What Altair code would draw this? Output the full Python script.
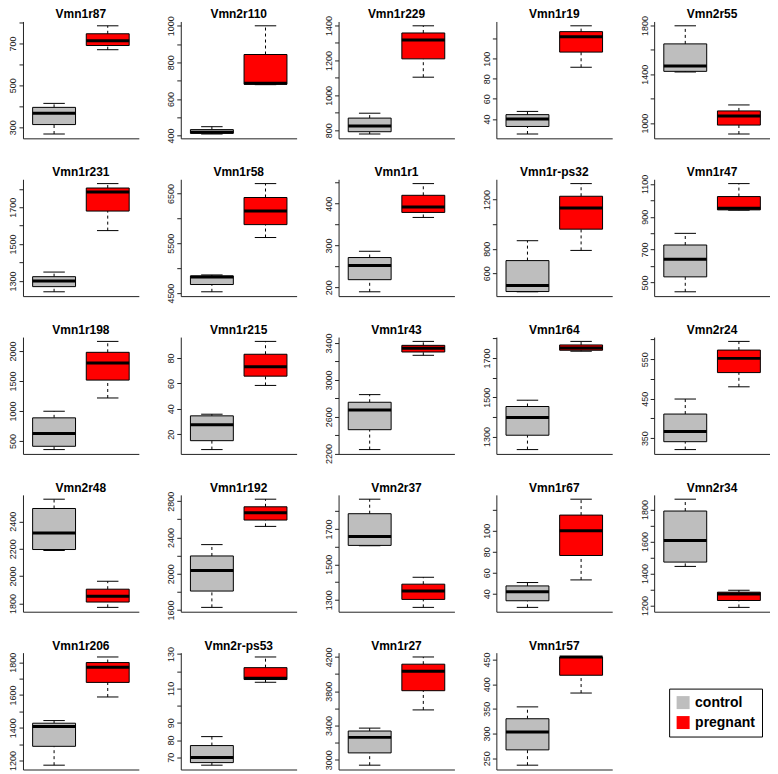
import altair as alt
import pandas as pd

genes = ["Vmn1r87", "Vmn2r110", "Vmn1r229", "Vmn1r19", "Vmn2r55",
         "Vmn1r231", "Vmn1r58", "Vmn1r1", "Vmn1r-ps32", "Vmn1r47",
         "Vmn1r198", "Vmn1r215", "Vmn1r43", "Vmn1r64", "Vmn2r24",
         "Vmn2r48", "Vmn1r192", "Vmn2r37", "Vmn1r67", "Vmn2r34",
         "Vmn1r206", "Vmn2r-ps53", "Vmn1r27", "Vmn1r57"]

# control group: whisker low, Q1, median, Q3, whisker high
ctrl_min = [268, 408, 779, 25, 1419, 1241, 4527, 189, 449, 443, 357, 8, 2243, 1234, 321,
            2187, 1629, 1605, 27.1, 1444, 1172, 65.4, 2938, 236]
ctrl_q1 = [313, 412, 792, 32.5, 1424, 1269, 4673, 218, 451, 534, 412, 15, 2459, 1307, 341,
           2194, 1809, 1607, 33.4, 1471, 1287, 66.9, 3081, 267]
ctrl_med = [367, 417, 825, 40, 1468, 1300, 4825, 252, 500, 641, 627, 27.5, 2674, 1397, 367,
            2315, 2035, 1657, 41.9, 1606, 1408, 69.8, 3262, 303]
ctrl_q3 = [395, 432, 870, 44.3, 1649, 1323, 4845, 271, 703, 728, 886, 34.5, 2757, 1453, 411,
           2494, 2196, 1786, 47.5, 1790, 1428, 76.8, 3336, 330]
ctrl_max = [414, 448, 898, 47.5, 1797, 1348, 4865, 286, 865, 799, 996, 35.8, 2840, 1485, 449,
            2562, 2321, 1868, 50.7, 1864, 1444, 82, 3370, 354]

# pregnant group
preg_min = [670, 678, 1104, 91.5, 911, 1573, 5616, 367, 786, 940, 1217, 58.4, 3267, 1734, 480,
            1771, 2522, 1257, 53.2, 1188, 1588, 113.6, 3582, 382]
preg_q1 = [690, 680, 1209, 106.6, 984, 1679, 5875, 379, 959, 942, 1515, 65.7, 3303, 1739, 516,
           1810, 2592, 1302, 76.4, 1231, 1677, 115.2, 3806, 418]
preg_med = [713, 686, 1317, 122, 1059, 1783, 6147, 392, 1132, 952, 1802, 73, 3343, 1750, 552,
            1853, 2672, 1350, 100, 1272, 1770, 115.9, 4034, 455]
preg_q3 = [746, 843, 1357, 127, 1100, 1804, 6419, 420, 1227, 1023, 1978, 82.9, 3375, 1766, 573,
           1904, 2738, 1388, 114.8, 1283, 1798, 122.1, 4115, 455]
preg_max = [784, 1000, 1398, 132.8, 1149, 1828, 6698, 448, 1330, 1102, 2160, 93, 3418, 1784, 595,
            1962, 2822, 1427, 129.9, 1295, 1832, 128.3, 4199, 455]

tick_values = [
    [300, 400, 500, 600, 700, 800],
    [400, 500, 600, 700, 800, 900, 1000],
    [800, 900, 1000, 1100, 1200, 1300, 1400],
    [40, 60, 80, 100, 120],
    [1000, 1200, 1400, 1600, 1800],
    [1300, 1400, 1500, 1600, 1700, 1800],
    [4500, 5000, 5500, 6000, 6500],
    [200, 250, 300, 350, 400, 450],
    [600, 800, 1000, 1200],
    [500, 600, 700, 800, 900, 1000, 1100],
    [500, 1000, 1500, 2000],
    [20, 40, 60, 80],
    [2200, 2400, 2600, 2800, 3000, 3200, 3400],
    [1300, 1400, 1500, 1600, 1700, 1800],
    [350, 400, 450, 500, 550, 600],
    [1800, 2000, 2200, 2400],
    [1600, 1800, 2000, 2200, 2400, 2600, 2800],
    [1300, 1400, 1500, 1600, 1700, 1800],
    [40, 60, 80, 100, 120],
    [1200, 1300, 1400, 1500, 1600, 1700, 1800],
    [1200, 1300, 1400, 1500, 1600, 1700, 1800],
    [70, 80, 90, 100, 110, 120, 130],
    [3000, 3200, 3400, 3600, 3800, 4000, 4200],
    [250, 300, 350, 400, 450],
]
label_values = [
    [300, 500, 700],
    [400, 600, 800, 1000],
    [800, 1000, 1200, 1400],
    [40, 60, 80, 100],
    [1000, 1400, 1800],
    [1300, 1500, 1700],
    [4500, 5500, 6500],
    [200, 300, 400],
    [600, 800, 1200],
    [500, 700, 900, 1100],
    [500, 1000, 1500, 2000],
    [20, 40, 60, 80],
    [2200, 2600, 3000, 3400],
    [1300, 1500, 1700],
    [350, 450, 550],
    [1800, 2000, 2200, 2400],
    [1600, 2000, 2400, 2800],
    [1300, 1500, 1700],
    [40, 60, 80, 100],
    [1200, 1400, 1600, 1800],
    [1200, 1400, 1600, 1800],
    [70, 80, 90, 110, 130],
    [3000, 3400, 3800, 4200],
    [250, 300, 350, 400, 450],
]

groups = ["control", "pregnant"]
group_pos = [1, 2]
fill_colors = ["#BEBEBE", "#FF0000"]

PLOT_W = 116
PLOT_H = 117
PITCH = 158
FONT = "Liberation Sans"

legend_def = alt.Legend(
    title=None, orient="none", legendX=647, legendY=668,
    symbolType="square", symbolSize=169, symbolStrokeWidth=0,
    labelFontSize=14, labelFontWeight="bold", labelFont=FONT, labelColor="black",
    strokeColor="black", padding=7, rowPadding=6, labelOffset=5,
)


def panel(i):
    df = pd.DataFrame({
        "group": groups,
        "pos": group_pos,
        "lo": [ctrl_min[i], preg_min[i]],
        "q1": [ctrl_q1[i], preg_q1[i]],
        "med": [ctrl_med[i], preg_med[i]],
        "q3": [ctrl_q3[i], preg_q3[i]],
        "hi": [ctrl_max[i], preg_max[i]],
    })
    lo_all = float(df["lo"].min())
    hi_all = float(df["hi"].max())
    pad = 0.04 * (hi_all - lo_all)
    yscale = alt.Scale(domain=[lo_all - pad, hi_all + pad], nice=False, zero=False)
    xscale = alt.Scale(domain=[0.42, 2.58], nice=False, zero=False)
    labs = ",".join(str(v) for v in label_values[i])
    expr = "indexof([" + labs + "], datum.value) >= 0 ? datum.label : ''"
    yaxis = alt.Axis(values=tick_values[i], labelExpr=expr, title=None, format="d")
    xaxis = alt.Axis(labels=False, ticks=False, title=None, grid=False)

    def X(f):
        return alt.X(f"{f}:Q", scale=xscale, axis=xaxis)

    def Y(f):
        return alt.Y(f"{f}:Q", scale=yscale, axis=yaxis)

    base = alt.Chart(df).transform_calculate(
        boxl="datum.pos - 0.4", boxr="datum.pos + 0.4",
        capl="datum.pos - 0.2", capr="datum.pos + 0.2",
    )
    whisk_up = base.mark_rule(color="black", strokeWidth=1, strokeDash=[3, 3]).encode(
        x=X("pos"), y=Y("q3"), y2="hi:Q")
    whisk_dn = base.mark_rule(color="black", strokeWidth=1, strokeDash=[3, 3]).encode(
        x=X("pos"), y=Y("lo"), y2="q1:Q")
    cap_up = base.mark_rule(color="black", strokeWidth=1).encode(
        x=X("capl"), x2="capr:Q", y=Y("hi"))
    cap_dn = base.mark_rule(color="black", strokeWidth=1).encode(
        x=X("capl"), x2="capr:Q", y=Y("lo"))
    box = base.mark_rect(stroke="black", strokeWidth=1).encode(
        x=X("boxl"), x2="boxr:Q", y=Y("q1"), y2="q3:Q",
        fill=alt.Fill("group:N", scale=alt.Scale(domain=groups, range=fill_colors),
                      legend=legend_def),
    )
    med = base.mark_rule(color="black", strokeWidth=3).encode(
        x=X("boxl"), x2="boxr:Q", y=Y("med"))
    title = alt.Chart(pd.DataFrame({"gene": [genes[i]]})).mark_text(
        font=FONT, fontSize=12, fontWeight="bold", color="black",
        align="center", baseline="alphabetic",
    ).encode(text="gene:N", x=alt.value(PLOT_W / 2), y=alt.value(-3))
    return alt.layer(whisk_up, whisk_dn, cap_up, cap_dn, box, med, title).properties(
        width=PLOT_W, height=PLOT_H)


charts = [panel(i) for i in range(len(genes))]

chart = alt.concat(
    *charts, columns=5, bounds="flush",
    spacing={"row": PITCH - PLOT_H, "column": PITCH - PLOT_W},
).properties(
    padding={"left": 0, "top": 0, "right": 0, "bottom": 0}
).configure_view(stroke=None).configure_axis(
    domainColor="#222", domainWidth=1, tickColor="#222", tickWidth=1, tickSize=4,
    labelFont=FONT, labelFontSize=9, labelColor="#222", labelPadding=1,
    grid=False,
).configure_axisY(labelAngle=270)

chart.save("out.html", embed_options={"renderer": "svg", "actions": False})
